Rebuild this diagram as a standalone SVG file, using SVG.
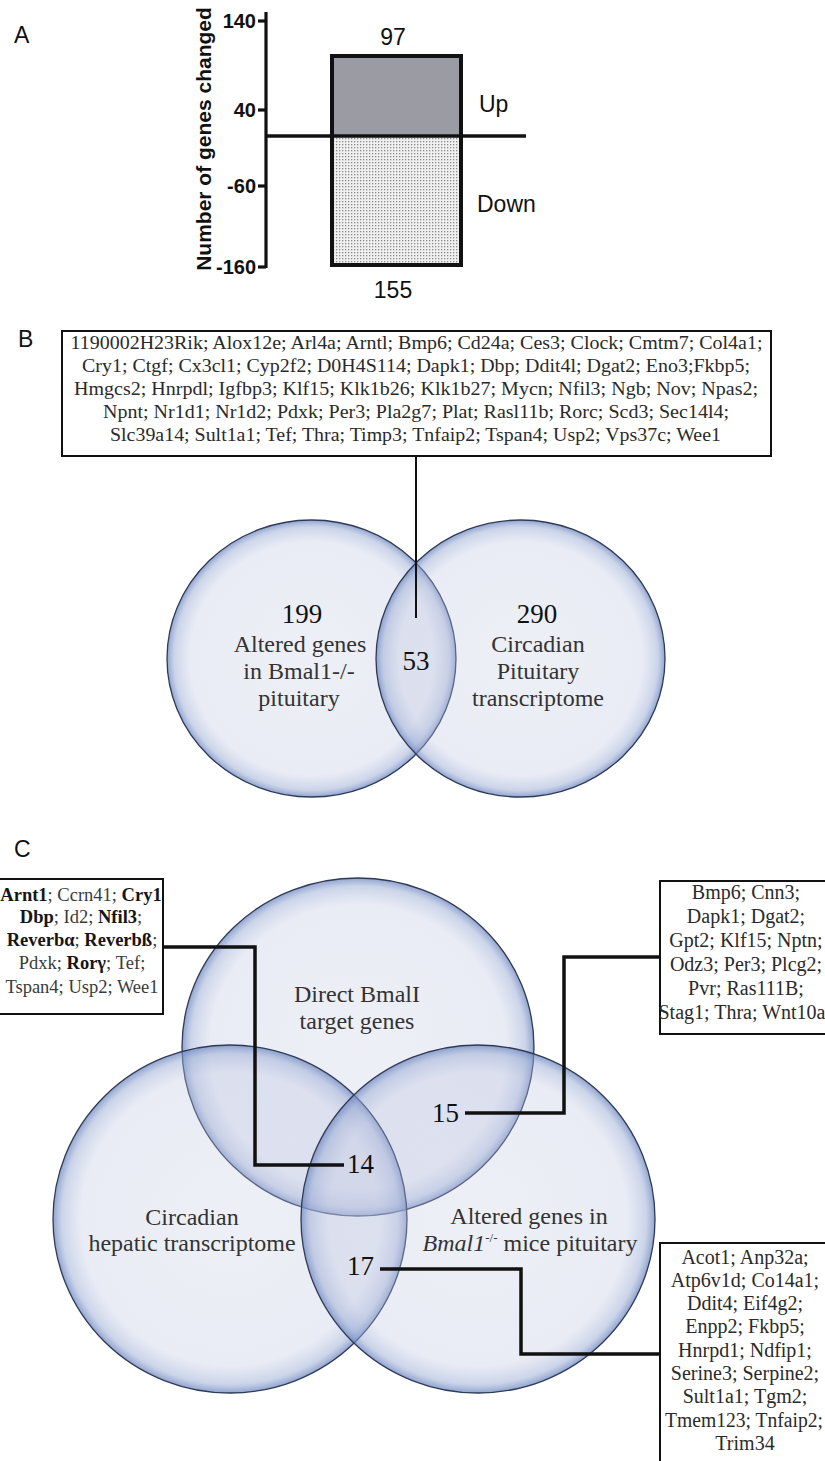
<svg xmlns="http://www.w3.org/2000/svg" width="825" height="1461" viewBox="0 0 825 1461">
<style>
.sans{font-family:"Liberation Sans",Arial,sans-serif}
.serif{font-family:"Liberation Serif","Times New Roman",serif}
.panel{font-size:23px;fill:#111}
.tick{font-size:20px;font-weight:bold;fill:#111;text-anchor:end}
.bar{font-size:23px;fill:#111}
.ax{stroke:#111;stroke-width:3.2;fill:none}
.box{fill:#fff;stroke:#111;stroke-width:2}
.gl{font-size:19.5px;fill:#2a2a2a;text-anchor:middle}
.cl{font-size:18.5px;fill:#3a3a3a;text-anchor:middle}
.rl{font-size:20px;fill:#2a2a2a;text-anchor:middle}
.vlab{font-size:24px;fill:#333;text-anchor:middle}
.num{font-size:27px;fill:#111}
.circ{fill:url(#vg);stroke:#2f3a56;stroke-width:1.3}
.conB{stroke:#111;stroke-width:2;fill:none}
.conC{stroke:#111;stroke-width:3.5;fill:none;stroke-linejoin:miter;stroke-linecap:butt}
.b{font-weight:bold;fill:#151515}
</style>
<defs>
<radialGradient id="vg" cx="50%" cy="50%" r="50%">
<stop offset="0%" stop-color="#c6cbe3" stop-opacity="0.3"/>
<stop offset="84%" stop-color="#bcc4e0" stop-opacity="0.32"/>
<stop offset="95%" stop-color="#97a9d3" stop-opacity="0.5"/>
<stop offset="100%" stop-color="#6b85bf" stop-opacity="0.75"/>
</radialGradient>
<pattern id="dots" width="3" height="3" patternUnits="userSpaceOnUse">
<rect width="3" height="3" fill="#f0f0f0"/>
<rect x="0" y="0" width="1.3" height="1.3" fill="#8a8a8a"/>
</pattern>
</defs>
<rect width="825" height="1461" fill="#fff"/>

<!-- Panel A -->
<g id="panelA">
<text class="sans panel" x="14" y="43">A</text>
<text class="sans" font-size="21" font-weight="bold" fill="#111" text-anchor="middle" transform="translate(211,139) rotate(-90)">Number of genes changed</text>
<line class="ax" x1="266" y1="12" x2="266" y2="268"/>
<line class="ax" x1="258" y1="21" x2="266" y2="21"/>
<line class="ax" x1="258" y1="110" x2="266" y2="110"/>
<line class="ax" x1="258" y1="186" x2="266" y2="186"/>
<line class="ax" x1="258" y1="267" x2="266" y2="267"/>
<text class="sans tick" x="256" y="28">140</text>
<text class="sans tick" x="256" y="117">40</text>
<text class="sans tick" x="256" y="193">-60</text>
<text class="sans tick" x="256" y="274">-160</text>
<rect x="332" y="56" width="129" height="80" fill="#9a9ba3"/>
<rect x="332" y="136" width="129" height="129" fill="url(#dots)"/>
<rect x="332" y="56" width="129" height="209" fill="none" stroke="#111" stroke-width="4"/>
<line x1="266" y1="136" x2="526" y2="136" stroke="#111" stroke-width="3.5"/>
<text class="sans bar" x="393" y="45" text-anchor="middle">97</text>
<text class="sans bar" x="393" y="298" text-anchor="middle">155</text>
<text class="sans bar" x="479" y="112">Up</text>
<text class="sans bar" x="477" y="212">Down</text>
</g>

<!-- Panel B -->
<g id="panelB-label"><text class="sans panel" x="18" y="347">B</text></g>
<g id="vennB-left"><ellipse class="circ" cx="311.5" cy="658.5" rx="144.5" ry="138.5"/></g>
<g id="vennB-right"><ellipse class="circ" cx="520.5" cy="658.5" rx="144.5" ry="138.5"/></g>
<g id="vennB-text">
<text class="serif num" x="302" y="623" text-anchor="middle">199</text>
<text class="serif vlab" x="300" y="652">Altered genes</text>
<text class="serif vlab" x="299" y="679">in Bmal1-/-</text>
<text class="serif vlab" x="299" y="706">pituitary</text>
<text class="serif num" x="416" y="670" text-anchor="middle">53</text>
<text class="serif num" x="537" y="623" text-anchor="middle">290</text>
<text class="serif vlab" x="538" y="652">Circadian</text>
<text class="serif vlab" x="538" y="679">Pituitary</text>
<text class="serif vlab" x="538" y="706">transcriptome</text>
</g>
<g id="boxB">
<rect class="box" x="62" y="331" width="709" height="125"/>
<text class="serif gl" x="416.5" y="349" textLength="692" lengthAdjust="spacingAndGlyphs">1190002H23Rik; Alox12e; Arl4a; Arntl; Bmp6; Cd24a; Ces3; Clock; Cmtm7; Col4a1;</text>
<text class="serif gl" x="416" y="372" textLength="668" lengthAdjust="spacingAndGlyphs">Cry1; Ctgf; Cx3cl1; Cyp2f2; D0H4S114; Dapk1; Dbp; Ddit4l; Dgat2; Eno3;Fkbp5;</text>
<text class="serif gl" x="416" y="395" textLength="684" lengthAdjust="spacingAndGlyphs">Hmgcs2; Hnrpdl; Igfbp3; Klf15; Klk1b26; Klk1b27; Mycn; Nfil3; Ngb; Nov; Npas2;</text>
<text class="serif gl" x="416" y="418" textLength="626" lengthAdjust="spacingAndGlyphs">Npnt; Nr1d1; Nr1d2; Pdxk; Per3; Pla2g7; Plat; Rasl11b; Rorc; Scd3; Sec14l4;</text>
<text class="serif gl" x="415.5" y="441" textLength="611" lengthAdjust="spacingAndGlyphs">Slc39a14; Sult1a1; Tef; Thra; Timp3; Tnfaip2; Tspan4; Usp2; Vps37c; Wee1</text>
</g>

<!-- Panel C -->
<g id="panelC-label"><text class="sans panel" x="14" y="857">C</text></g>
<g id="vennC-top"><ellipse class="circ" cx="358" cy="1047" rx="176" ry="169"/></g>
<g id="vennC-left"><ellipse class="circ" cx="230" cy="1219" rx="177" ry="174"/></g>
<g id="vennC-right"><ellipse class="circ" cx="478" cy="1219" rx="177" ry="174"/></g>
<g id="vennC-text">
<text class="serif vlab" x="357" y="1002">Direct BmalI</text>
<text class="serif vlab" x="357" y="1029">target genes</text>
<text class="serif vlab" x="192" y="1225">Circadian</text>
<text class="serif vlab" x="192" y="1251">hepatic transcriptome</text>
<text class="serif vlab" x="529" y="1224">Altered genes in</text>
<text class="serif vlab" x="530" y="1251"><tspan font-style="italic">Bmal1</tspan><tspan font-size="13" dy="-9">-/-</tspan><tspan dy="9"> mice pituitary</tspan></text>
<text class="serif num" x="347" y="1173">14</text>
<text class="serif num" x="432" y="1122">15</text>
<text class="serif num" x="347" y="1275">17</text>
</g>
<g id="boxC-left">
<rect class="box" x="-1" y="879" width="164" height="135"/>
<text class="serif cl" x="81" y="901"><tspan class="b">Arnt1</tspan>; Ccrn41; <tspan class="b">Cry1</tspan></text>
<text class="serif cl" x="81" y="923"><tspan class="b">Dbp</tspan>; Id2; <tspan class="b">Nfil3</tspan>;</text>
<text class="serif cl" x="82" y="946"><tspan class="b">Reverbα</tspan>; <tspan class="b">Reverbß</tspan>;</text>
<text class="serif cl" x="82" y="969">Pdxk; <tspan class="b">Rorγ</tspan>; Tef;</text>
<text class="serif cl" x="82" y="993">Tspan4; Usp2; Wee1</text>
</g>
<g id="boxC-topright">
<rect class="box" x="660" y="881" width="175" height="153"/>
<text class="serif rl" x="746" y="899">Bmp6; Cnn3;</text>
<text class="serif rl" x="746" y="923">Dapk1; Dgat2;</text>
<text class="serif rl" x="746" y="947">Gpt2; Klf15; Nptn;</text>
<text class="serif rl" x="746" y="971">Odz3; Per3; Plcg2;</text>
<text class="serif rl" x="746" y="995">Pvr; Ras111B;</text>
<text class="serif rl" x="742" y="1019" font-size="18.5">Stag1; Thra; Wnt10a</text>
</g>
<g id="boxC-bottomright">
<rect class="box" x="660" y="1243" width="175" height="240"/>
<text class="serif rl" x="745" y="1264">Acot1; Anp32a;</text>
<text class="serif rl" x="745" y="1287">Atp6v1d; Co14a1;</text>
<text class="serif rl" x="745" y="1310">Ddit4; Eif4g2;</text>
<text class="serif rl" x="745" y="1333">Enpp2; Fkbp5;</text>
<text class="serif rl" x="745" y="1357">Hnrpd1; Ndfip1;</text>
<text class="serif rl" x="745" y="1380">Serine3; Serpine2;</text>
<text class="serif rl" x="745" y="1403">Sult1a1; Tgm2;</text>
<text class="serif rl" x="744" y="1427" textLength="158" lengthAdjust="spacingAndGlyphs">Tmem123; Tnfaip2;</text>
<text class="serif rl" x="745" y="1450">Trim34</text>
</g>

<g id="connectors">
<line class="conB" x1="416" y1="456" x2="416" y2="618"/>
<polyline class="conC" points="163,947 255,947 255,1165 344,1165"/>
<polyline class="conC" points="465,1113 564,1113 564,957 660,957"/>
<polyline class="conC" points="380,1269 521,1269 521,1354 660,1354"/>
</g>
</svg>
